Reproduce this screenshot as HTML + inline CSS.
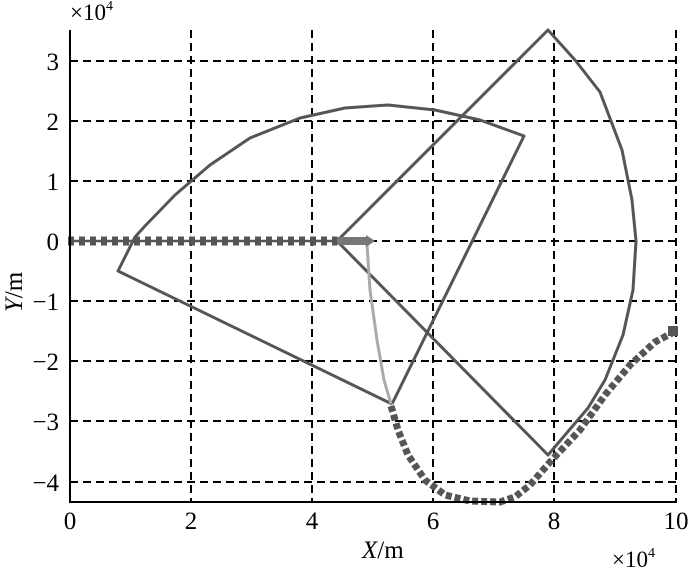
<!DOCTYPE html><html><head><meta charset="utf-8"><style>body{margin:0;background:#fff}svg{display:block}text{font-family:"Liberation Serif","DejaVu Serif",serif;fill:#000}</style></head><body>
<svg width="689" height="571" viewBox="0 0 689 571">
<g stroke="#000" stroke-width="2" stroke-dasharray="8,5" fill="none">
<line x1="191" y1="30" x2="191" y2="502"/><line x1="312" y1="30" x2="312" y2="502"/><line x1="433" y1="30" x2="433" y2="502"/><line x1="554" y1="30" x2="554" y2="502"/><line x1="676" y1="30" x2="676" y2="502"/>
<line x1="70" y1="61" x2="676" y2="61"/><line x1="70" y1="121" x2="676" y2="121"/><line x1="70" y1="181" x2="676" y2="181"/><line x1="70" y1="241" x2="676" y2="241"/><line x1="70" y1="301" x2="676" y2="301"/><line x1="70" y1="361" x2="676" y2="361"/><line x1="70" y1="421" x2="676" y2="421"/><line x1="70" y1="482" x2="676" y2="482"/>
</g>
<g stroke="#555" stroke-width="3" fill="none" stroke-linejoin="round">
<polyline points="392,404 118,271 135,237 145,226 175,195 210,165 250,138 300,118 345,108 388,105 435,110 480,120 524,136 392,404"/>
<polyline points="337,241 548,30 575,60 600,92 622,150 632,200 636,241 633,290 623,335 605,380 588,408 548,455 337,241"/>
</g>
<polyline points="367,244 370,290 377,340 384,380 391,404" stroke="#aaa" stroke-width="3" fill="none"/>
<line x1="68" y1="241" x2="337" y2="241" stroke="#555" stroke-width="2.5"/>
<line x1="68" y1="241" x2="337" y2="241" stroke="#555" stroke-width="9" stroke-dasharray="6,5"/>
<line x1="337" y1="241" x2="368" y2="241" stroke="#777" stroke-width="8"/>
<polygon points="366,235 375,241 366,247" fill="#777"/>
<polyline points="391,406 398,430 408,455 425,480 445,495 470,501 500,502 515,497 530,485 550,462 580,430 605,395 630,365 655,342 676,331" stroke="#555" stroke-width="7" fill="none" stroke-dasharray="6,3"/>
<rect x="668" y="326" width="10" height="10" fill="#555"/>
<line x1="70" y1="30" x2="70" y2="502" stroke="#000" stroke-width="2"/>
<line x1="69" y1="502" x2="677" y2="502" stroke="#000" stroke-width="2"/>
<g font-size="25" text-anchor="end">
<text x="59" y="70">3</text><text x="59" y="130">2</text><text x="59" y="190">1</text><text x="59" y="250">0</text><text x="59" y="310">−1</text><text x="59" y="370">−2</text><text x="59" y="430">−3</text><text x="59" y="491">−4</text>
</g>
<g font-size="25" text-anchor="middle">
<text x="70" y="529">0</text><text x="191" y="529">2</text><text x="312" y="529">4</text><text x="433" y="529">6</text><text x="554" y="529">8</text><text x="676" y="529">10</text>
</g>
<text x="70" y="20" font-size="23">×10<tspan font-size="14" dy="-10">4</tspan></text>
<text x="612" y="567" font-size="23">×10<tspan font-size="14" dy="-10">4</tspan></text>
<text x="362" y="558" font-size="25"><tspan font-style="italic">X</tspan>/m</text>
<text transform="translate(22,292) rotate(-90)" font-size="25" text-anchor="middle"><tspan font-style="italic">Y</tspan>/m</text>
</svg></body></html>
